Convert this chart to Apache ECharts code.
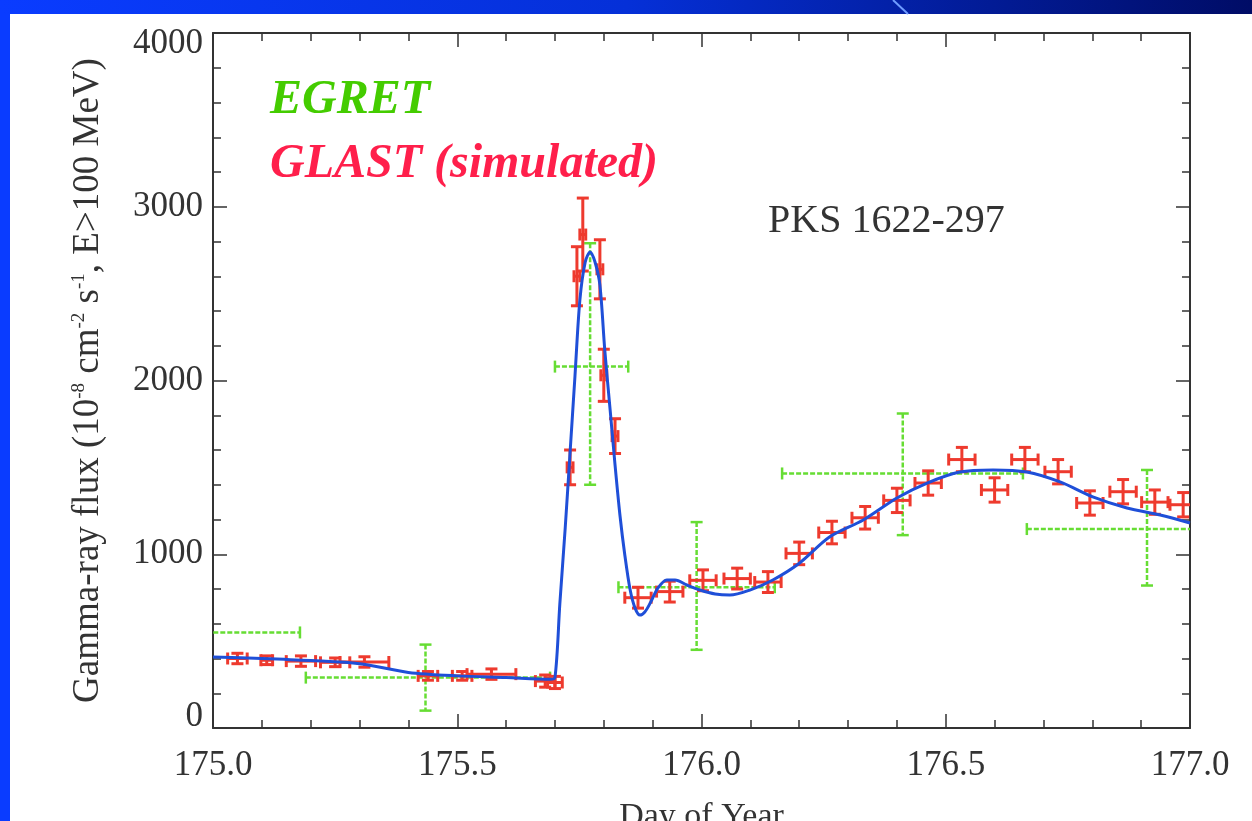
<!DOCTYPE html>
<html>
<head>
<meta charset="utf-8">
<title>PKS 1622-297</title>
<script src="https://cdn.jsdelivr.net/npm/echarts@6/dist/echarts.min.js"></script>
<style>
  html, body { margin: 0; padding: 0; background: #ffffff; }
  #chart { width: 1252px; height: 821px; }
</style>
</head>
<body>
<div id="chart"></div>
<script>
// GLAST (simulated) points: day, flux, x error, y error
const glastX = [175.05, 175.11, 175.18, 175.25, 175.31, 175.44, 175.51, 175.57, 175.68, 175.70,
  175.731, 175.745, 175.757, 175.792, 175.80, 175.823,
  175.870, 175.935, 176.003, 176.073, 176.136, 176.200, 176.267, 176.335, 176.400, 176.464,
  176.533, 176.600, 176.662, 176.730, 176.795, 176.863, 176.928, 176.986];
const glastY = [400, 390, 385, 378, 380, 300, 300, 310, 270, 262,
  1500, 2600, 2840, 2640, 2030, 1680,
  750, 785, 850, 860, 840, 1005, 1125, 1210, 1310, 1410,
  1545, 1370, 1545, 1475, 1295, 1360, 1300, 1285];
const glastXErr = [0.02, 0.012, 0.03, 0.03, 0.05, 0.02, 0.02, 0.05, 0.02, 0.015,
  0.006, 0.006, 0.006, 0.006, 0.006, 0.006,
  0.027, 0.027, 0.027, 0.027, 0.027, 0.027, 0.027, 0.027, 0.027, 0.027,
  0.027, 0.027, 0.027, 0.027, 0.027, 0.027, 0.027, 0.027];
const glastYErr = [30, 25, 30, 25, 30, 25, 25, 30, 35, 35,
  100, 170, 210, 170, 150, 100,
  60, 60, 60, 60, 60, 65, 65, 65, 70, 70,
  70, 70, 70, 70, 70, 70, 70, 70];

// EGRET points: day, flux and error bar ends
const egretX = [174.99, 175.435, 175.772, 175.99, 176.412, 176.912];
const egretY = [550, 290, 2080, 810, 1465, 1145];
const egretXLo = [174.80, 175.19, 175.70, 175.83, 176.165, 176.666];
const egretXHi = [175.178, 175.69, 175.85, 176.15, 176.658, 177.05];
const egretYLo = [550, 100, 1400, 450, 1110, 820];
const egretYHi = [550, 480, 2790, 1185, 1810, 1485];

// fitted light curve (blue)
const fitX = [175.0, 175.1, 175.2, 175.3, 175.4, 175.5, 175.6, 175.69, 175.700, 175.710,
  175.721, 175.731, 175.741, 175.751, 175.762, 175.772, 175.782, 175.792, 175.802, 175.813,
  175.823, 175.833, 175.843, 175.854, 175.864, 175.874, 175.884, 175.895, 175.911, 175.929,
  175.946, 175.970, 175.997, 176.028, 176.058, 176.099, 176.146, 176.201, 176.262, 176.331,
  176.400, 176.462, 176.529, 176.597, 176.666, 176.734, 176.801, 176.871, 176.939, 177.0];
const fitY = [409, 400, 388, 370, 320, 300, 290, 280, 290, 714,
  1151, 1588, 2026, 2463, 2682, 2740, 2682, 2550, 2175, 1830,
  1514, 1226, 996, 794, 690, 650, 668, 719, 806, 852,
  852, 823, 794, 771, 765, 794, 852, 950, 1099, 1197,
  1324, 1410, 1473, 1485, 1473, 1416, 1330, 1266, 1226, 1180];

const xTicks = [175.0, 175.5, 176.0, 176.5, 177.0];
const yTicks = [0, 1000, 2000, 3000, 4000];

const serif = "'Liberation Serif', 'DejaVu Serif', serif";
const axisColor = '#333333';

var chart = echarts.init(document.getElementById('chart'));

// error bar cross with caps
function errorBar(color, dashed, cap, width) {
  return function (params, api) {
    const x = api.value(0), y = api.value(1);
    const l = api.coord([api.value(2), y]);
    const r = api.coord([api.value(3), y]);
    const b = api.coord([x, api.value(4)]);
    const t = api.coord([x, api.value(5)]);
    const style = { stroke: color, lineWidth: width, lineDash: dashed ? [5, 2] : null };
    const solid = { stroke: color, lineWidth: width };
    const kids = [
      { type: 'line', shape: { x1: l[0], y1: l[1], x2: r[0], y2: r[1] }, style: style },
      { type: 'line', shape: { x1: l[0], y1: l[1] - cap, x2: l[0], y2: l[1] + cap }, style: solid },
      { type: 'line', shape: { x1: r[0], y1: r[1] - cap, x2: r[0], y2: r[1] + cap }, style: solid }
    ];
    if (api.value(5) > api.value(4)) {
      kids.push(
        { type: 'line', shape: { x1: t[0], y1: t[1], x2: b[0], y2: b[1] }, style: style },
        { type: 'line', shape: { x1: t[0] - cap, y1: t[1], x2: t[0] + cap, y2: t[1] }, style: solid },
        { type: 'line', shape: { x1: b[0] - cap, y1: b[1], x2: b[0] + cap, y2: b[1] }, style: solid }
      );
    }
    return { type: 'group', children: kids };
  };
}

const egretData = egretX.map((x, i) => [x, egretY[i], egretXLo[i], egretXHi[i], egretYLo[i], egretYHi[i]]);
const glastData = glastX.map((x, i) => [x, glastY[i], x - glastXErr[i], x + glastXErr[i],
  glastY[i] - glastYErr[i], glastY[i] + glastYErr[i]]);
const fitData = fitX.map((x, i) => [x, fitY[i]]);

const tickCommon = {
  axisLine: { show: true, onZero: false, lineStyle: { color: axisColor, width: 2 } },
  axisTick: { show: true, inside: true, length: 14, lineStyle: { color: axisColor, width: 1.5 } },
  minorTick: { show: true, splitNumber: 5, length: 8, lineStyle: { color: axisColor, width: 1.5 } },
  splitLine: { show: false },
  minorSplitLine: { show: false }
};

const yLab = { fontFamily: serif, fontSize: 35, color: axisColor };

const option = {
  backgroundColor: '#ffffff',
  animation: false,
  grid: { left: 213, right: 62, top: 33, bottom: 93, containLabel: false, outerBoundsMode: 'none' },
  graphic: [
    { type: 'rect', z: 100, shape: { x: 0, y: 0, width: 10, height: 821 }, style: { fill: '#0a3cff' } },
    {
      type: 'rect', z: 100, shape: { x: 0, y: 0, width: 1252, height: 14 },
      style: {
        fill: new echarts.graphic.LinearGradient(0, 0, 1, 0, [
          { offset: 0, color: '#0a3cff' },
          { offset: 0.5, color: '#0530d8' },
          { offset: 1, color: '#000c66' }
        ])
      }
    },
    { type: 'line', z: 101, shape: { x1: 893, y1: 0, x2: 908, y2: 14 }, style: { stroke: '#6f9cff', lineWidth: 2 } },
    {
      type: 'text', left: 270, top: 77,
      style: { text: 'EGRET', fill: '#44cc00', font: "italic bold 48px " + serif }
    },
    {
      type: 'text', left: 270, top: 141,
      style: { text: 'GLAST (simulated)', fill: '#ff1f4b', font: "italic bold 48px " + serif }
    },
    {
      type: 'text', left: 768, top: 201,
      style: { text: 'PKS 1622-297', fill: '#333333', font: "40px " + serif }
    }
  ],
  xAxis: [
    Object.assign({
      type: 'value', min: 175, max: 177, interval: 0.5, position: 'bottom',
      name: 'Day of Year', nameLocation: 'middle', nameGap: 72,
      nameTextStyle: { fontFamily: serif, fontSize: 34, color: axisColor },
      axisLabel: {
        fontFamily: serif, fontSize: 35, color: axisColor, margin: 20,
        formatter: function (v) { return xTicks.indexOf(v) >= 0 ? v.toFixed(1) : ''; }
      }
    }, tickCommon),
    Object.assign({
      type: 'value', min: 175, max: 177, interval: 0.5, position: 'top',
      axisLabel: { show: false }
    }, tickCommon)
  ],
  yAxis: [
    Object.assign({
      type: 'value', min: 0, max: 4000, interval: 1000, position: 'left',
      name: '{a|Gamma-ray flux (10}{s|-8}{a| cm}{s|-2}{a| s}{s|-1}{a|, E>100 MeV)}',
      nameLocation: 'middle', nameGap: 106, nameRotate: 90,
      nameTextStyle: {
        rich: {
          a: { fontFamily: serif, fontSize: 37, color: axisColor },
          s: { fontFamily: serif, fontSize: 19, color: axisColor, verticalAlign: 'top', padding: [0, 0, 15, 0] }
        }
      },
      axisLabel: {
        fontFamily: serif, fontSize: 35, color: axisColor, margin: 10,
        rich: {
          lo: Object.assign({ padding: [0, 0, 22, 0] }, yLab),
          hi: Object.assign({ padding: [22, 0, 0, 0] }, yLab)
        },
        formatter: function (v) {
          if (yTicks.indexOf(v) < 0) return '';
          if (v === yTicks[0]) return '{lo|' + v + '}';
          if (v === yTicks[yTicks.length - 1]) return '{hi|' + v + '}';
          return String(v);
        }
      }
    }, tickCommon),
    Object.assign({
      type: 'value', min: 0, max: 4000, interval: 1000, position: 'right',
      axisLabel: { show: false }
    }, tickCommon)
  ],
  series: [
    {
      name: 'EGRET', type: 'custom', clip: true,
      renderItem: errorBar('#66dd33', true, 6, 2.5),
      encode: { x: [0, 2, 3], y: [1, 4, 5] },
      data: egretData, z: 2
    },
    {
      name: 'GLAST (simulated)', type: 'custom', clip: true,
      renderItem: errorBar('#ee3a2e', false, 6, 3),
      encode: { x: [0, 2, 3], y: [1, 4, 5] },
      data: glastData, z: 3
    },
    {
      name: 'fit', type: 'line', data: fitData, showSymbol: false, smooth: 0.3,
      lineStyle: { color: '#1f4fd8', width: 3 }, z: 4
    }
  ]
};

chart.setOption(option);
</script>
</body>
</html>
